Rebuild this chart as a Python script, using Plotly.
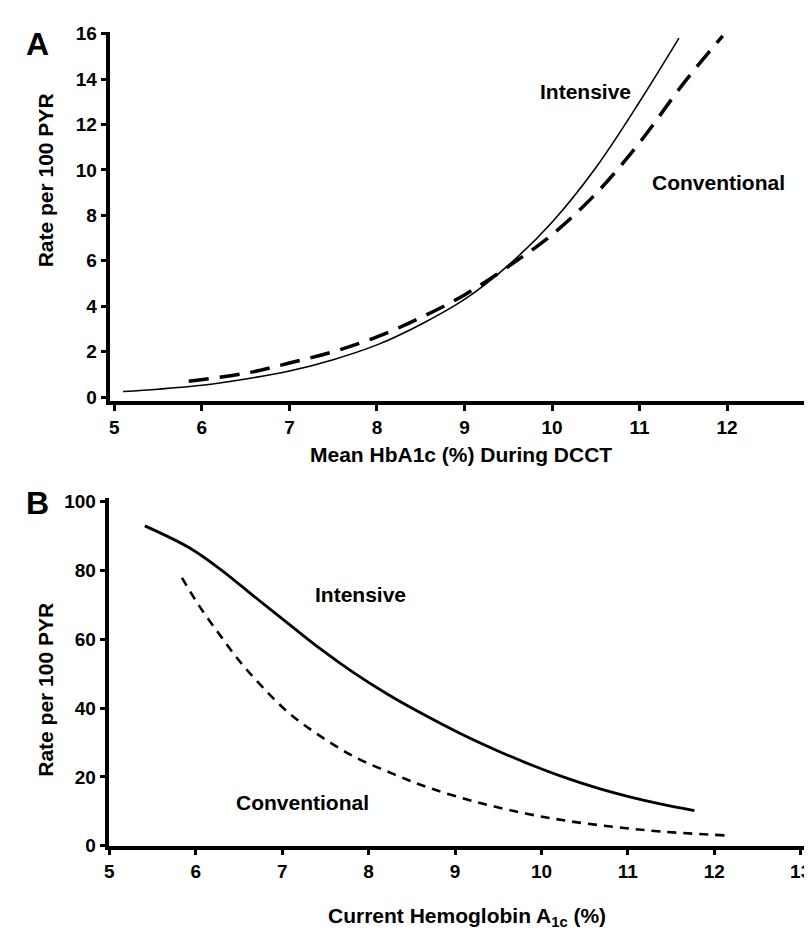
import plotly.graph_objects as go

# ---- Panel A data: Mean HbA1c during DCCT vs rate per 100 PYR ----
a_int_x = [5.1, 5.5, 6.0, 6.5, 7.0, 7.5, 8.0, 8.5, 9.0, 9.5, 10.0, 10.5, 11.0, 11.45]
a_int_y = [0.25, 0.35, 0.52, 0.8, 1.15, 1.65, 2.3, 3.2, 4.3, 5.8, 7.7, 10.1, 13.0, 15.8]
a_con_x = [5.85, 6.5, 7.0, 7.5, 8.0, 8.5, 9.0, 9.5, 10.0, 10.5, 11.0, 11.5, 11.95]
a_con_y = [0.7, 1.05, 1.5, 2.0, 2.65, 3.5, 4.5, 5.75, 7.15, 8.95, 11.2, 13.8, 15.9]

# ---- Panel B data: Current HbA1c vs rate per 100 PYR ----
b_int_x = [5.41, 5.92, 6.30, 6.68, 7.07, 7.45, 7.83, 8.22, 8.60, 9.06, 9.49, 9.87, 10.25, 10.64, 11.02, 11.40, 11.77]
b_int_y = [92.9, 86.6, 80.0, 72.3, 64.5, 57.0, 50.2, 44.0, 38.6, 32.6, 27.6, 23.6, 20.0, 16.8, 14.2, 12.0, 10.2]
b_con_x = [5.84, 6.03, 6.27, 6.50, 6.76, 7.07, 7.42, 7.83, 8.29, 8.70, 9.26, 9.83, 10.33, 10.87, 11.40, 12.12]
b_con_y = [77.8, 70.0, 61.5, 53.8, 46.4, 38.7, 32.2, 25.9, 20.8, 16.8, 12.6, 9.3, 7.1, 5.4, 4.1, 3.0]

x_ticks = [5, 6, 7, 8, 9, 10, 11, 12, 13]
a_y_ticks = [0, 2, 4, 6, 8, 10, 12, 14, 16]
b_y_ticks = [0, 20, 40, 60, 80, 100]

W, H = 812, 932
FONT = "Liberation Sans"

def px_x(p):
    return p / W

def px_y(p):
    return 1 - p / H

fig = go.Figure()

fig.add_trace(go.Scatter(x=a_int_x, y=a_int_y, mode="lines", line=dict(color="black", width=1.6, shape="spline"),
                         xaxis="x", yaxis="y", showlegend=False))
fig.add_trace(go.Scatter(x=a_con_x, y=a_con_y, mode="lines", line=dict(color="black", width=3.5, shape="spline", dash="20px,11px"),
                         xaxis="x", yaxis="y", showlegend=False))
fig.add_trace(go.Scatter(x=b_int_x, y=b_int_y, mode="lines", line=dict(color="black", width=2.8, shape="spline"),
                         xaxis="x2", yaxis="y2", showlegend=False))
fig.add_trace(go.Scatter(x=b_con_x, y=b_con_y, mode="lines", line=dict(color="black", width=2.6, shape="spline", dash="9px,7px"),
                         xaxis="x2", yaxis="y2", showlegend=False))

tickfont = dict(family=FONT, size=19, color="black", weight="bold")
axis_common = dict(showgrid=False, zeroline=False, showline=True, linecolor="black", linewidth=3.5,
                   ticks="outside", ticklen=6, tickwidth=3, tickcolor="black", tickfont=tickfont)

fig.update_layout(
    width=W, height=H,
    margin=dict(l=0, r=0, t=0, b=0),
    paper_bgcolor="white", plot_bgcolor="white",
    xaxis=dict(domain=[px_x(98), px_x(811)], range=[4.955, 13.05], tickvals=x_ticks, anchor="y", **axis_common),
    yaxis=dict(domain=[px_y(393), px_y(16)], range=[-0.17, 16.086], tickvals=a_y_ticks, anchor="x", **axis_common),
    xaxis2=dict(domain=[px_x(97), px_x(803)], range=[5, 13.12], tickvals=x_ticks, anchor="y2", **axis_common),
    yaxis2=dict(domain=[px_y(847), px_y(492)], range=[0, 101], tickvals=b_y_ticks, anchor="x2", **axis_common),
)

lab = dict(family=FONT, size=21, color="black", weight="bold")
c = dict(showarrow=False, xanchor="center", yanchor="middle")
annots = [
    # panel letters
    dict(text="A", x=px_x(25), y=px_y(29), xref="paper", yref="paper",
         font=dict(family=FONT, size=32, color="black", weight="bold"), **c),
    dict(text="B", x=px_x(25), y=px_y(497), xref="paper", yref="paper",
         font=dict(family=FONT, size=32, color="black", weight="bold"), **c),
    # axis titles
    dict(text="Rate per 100 PYR", x=px_x(33), y=px_y(168), xref="paper", yref="paper",
         textangle=-90, font=lab, **c),
    dict(text="Mean HbA1c (%) During DCCT", x=px_x(451), y=px_y(448), xref="paper", yref="paper",
         font=lab, **c),
    dict(text="Rate per 100 PYR", x=px_x(33), y=px_y(688), xref="paper", yref="paper",
         textangle=-90, font=lab, **c),
    dict(text="Current Hemoglobin A<sub>1c</sub> (%)", x=px_x(457), y=px_y(920), xref="paper", yref="paper",
         font=lab, **c),
    # curve labels
    dict(text="Intensive", x=10.38, y=13.45, xref="x", yref="y", font=lab, **c),
    dict(text="Conventional", x=11.9, y=9.44, xref="x", yref="y", font=lab, **c),
    dict(text="Intensive", x=7.91, y=72.9, xref="x2", yref="y2", font=lab, **c),
    dict(text="Conventional", x=7.24, y=12.5, xref="x2", yref="y2", font=lab, **c),
]
fig.update_layout(annotations=annots)

fig.write_html("out.html")
